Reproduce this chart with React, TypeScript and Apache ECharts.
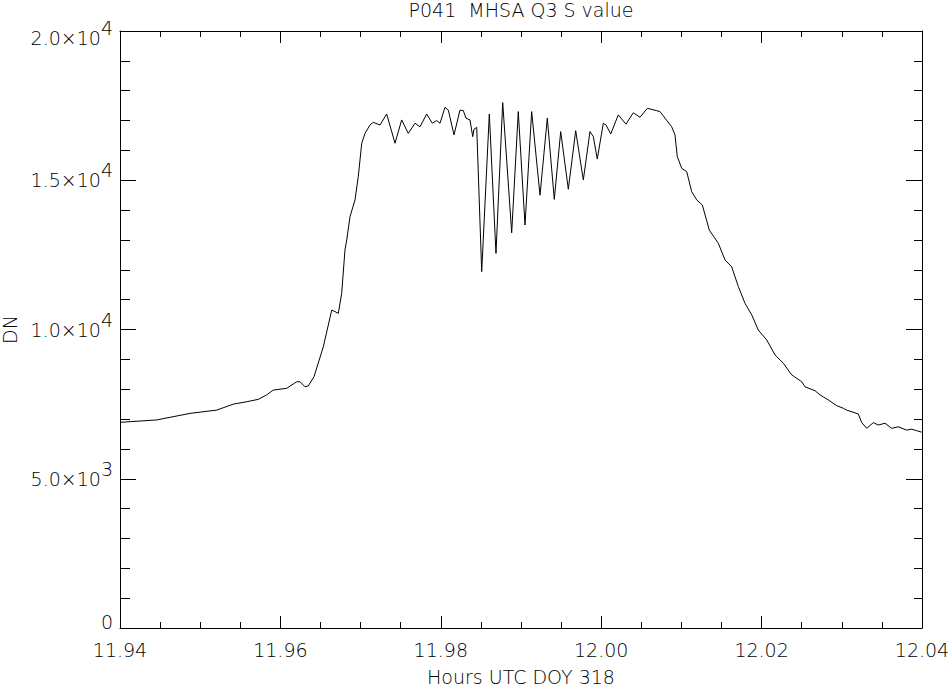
import React, { useEffect, useRef } from "react";
import * as echarts from "echarts";

// Hours UTC (DOY 318)
const hours = [
  11.94, 11.94458, 11.94873, 11.95206, 11.95413, 11.9558, 11.95724, 11.95829, 11.95911, 11.96079,
  11.96203, 11.96244, 11.96307, 11.96348, 11.96419, 11.96535, 11.9664, 11.96681, 11.96722, 11.96764,
  11.96805, 11.96827, 11.96868, 11.9693, 11.96971, 11.97014, 11.97055, 11.97117, 11.97158, 11.97242,
  11.97325, 11.97429, 11.97512, 11.97595, 11.97678, 11.97741, 11.97824, 11.97894, 11.97949, 11.9799,
  11.98052, 11.98094, 11.98165, 11.98239, 11.98281, 11.98314, 11.98364, 11.98398, 11.98414, 11.98448,
  11.9851, 11.98605, 11.98688, 11.98772, 11.98884, 11.98966, 11.9905, 11.99133, 11.99237, 11.99328,
  11.99415, 11.99495, 11.9959, 11.99682, 11.99777, 11.9986, 11.99902, 11.99951, 12.00026, 12.0006,
  12.00119, 12.00213, 12.00309, 12.004, 12.00484, 12.00575, 12.00692, 12.00733, 12.00796, 12.00879,
  12.0092, 12.00949, 12.01004, 12.01066, 12.01128, 12.01191, 12.01261, 12.01348, 12.0146, 12.01544,
  12.01627, 12.0171, 12.01793, 12.01877, 12.01959, 12.02064, 12.02167, 12.02271, 12.02375, 12.025,
  12.02541, 12.02666, 12.02728, 12.02832, 12.02936, 12.03019, 12.03061, 12.03206, 12.03248, 12.03311,
  12.03393, 12.03455, 12.03539, 12.03622, 12.03705, 12.03809, 12.03872, 12.03934, 12.03996,
];

// DN values
const dn = [
  6890, 6970, 7190, 7300, 7500, 7580, 7660, 7810, 7970, 8030,
  8250, 8250, 8080, 8110, 8420, 9420, 10650, 10600, 10540, 11210,
  12660, 13000, 13780, 14340, 15120, 16240, 16570, 16850, 16940, 16850,
  17220, 16240, 17020, 16570, 16910, 16790, 17220, 16910, 17000, 16910,
  17440, 17350, 16520, 17350, 17330, 17080, 17020, 16460, 16710, 16770,
  11940, 17220, 12550, 17600, 13240, 17300, 13500, 17300, 14500, 17080,
  14360, 16630, 14700, 16660, 15010, 16630, 16460, 15710, 16910, 16850,
  16550, 17190, 16880, 17260, 17110, 17410, 17330, 17300, 17080, 16790,
  16520, 15790, 15400, 15290, 14620, 14340, 14170, 13330, 12890, 12330,
  12100, 11440, 10880, 10490, 9980, 9650, 9150, 8870, 8480, 8250,
  8080, 7950, 7810, 7640, 7450, 7360, 7300, 7170, 6880, 6690,
  6880, 6800, 6860, 6690, 6740, 6630, 6660, 6610, 6560,
];

const titleText = "P041  MHSA Q3 S value";
const xName = "Hours UTC DOY 318";
const yName = "DN";
const xRange = [11.94, 12.04];
const xStep = 0.02;
const yRange = [0, 20000];
const yStep = 5000;

const FONT = "'DejaVu Sans', sans-serif";
const FS = 19;
const FW = 200;

function yLabel(v: number): string {
  if (v === 0) return "{z|0}";
  const e = Math.floor(Math.log10(v) + 1e-9);
  const m = (v / Math.pow(10, e)).toFixed(1);
  const top = v === yRange[1];
  return `{${top ? "tm" : "m"}|${m}×10}{${top ? "ts" : "s"}|${e}}`;
}

const base = { fontFamily: FONT, fontSize: FS, fontWeight: FW, color: "#000" } as any;

export default function App() {
  const ref = useRef<HTMLDivElement>(null);
  useEffect(() => {
    if (!ref.current) return;
    const chart = echarts.init(ref.current, undefined, { renderer: "svg" });
    const data = hours.map((h, i) => [h, dn[i]]);
    const axisLine = { show: true, onZero: false, lineStyle: { color: "#000", width: 1 } };
    const xCommon = {
      type: "value",
      min: xRange[0],
      max: xRange[1],
      interval: xStep,
      axisLine,
      axisTick: { show: true, inside: true, length: 12, lineStyle: { color: "#000", width: 1 } },
      minorTick: { show: true, splitNumber: 4, length: 6, lineStyle: { color: "#000", width: 1 } },
      splitLine: { show: false },
      minorSplitLine: { show: false },
    };
    const yCommon = {
      type: "value",
      min: yRange[0],
      max: yRange[1],
      interval: yStep,
      axisLine,
      axisTick: { show: true, inside: true, length: 16, lineStyle: { color: "#000", width: 1 } },
      splitLine: { show: false },
      minorSplitLine: { show: false },
    };
    chart.setOption({
      animation: false,
      backgroundColor: "#fff",
      title: {
        text: titleText,
        left: 521,
        top: 0,
        padding: 0,
        textAlign: "center",
        textStyle: { ...base },
      },
      grid: {
        left: 120,
        right: 26,
        top: 31,
        bottom: 58,
        containLabel: false,
        outerBoundsMode: "none",
      },
      xAxis: [
        {
          ...xCommon,
          position: "bottom",
          axisLabel: { ...base, margin: 12, formatter: (v: number) => v.toFixed(2) },
          name: xName,
          nameLocation: "middle",
          nameGap: 40,
          nameTextStyle: { ...base, lineHeight: 17 },
        },
        { ...xCommon, position: "top", axisLabel: { show: false } },
      ],
      yAxis: [
        {
          ...yCommon,
          position: "left",
          minorTick: { show: true, splitNumber: 5, length: 10, lineStyle: { color: "#000", width: 1 } },
          axisLabel: {
            ...base,
            margin: 7,
            formatter: yLabel,
            rich: {
              m: { ...base },
              s: { ...base, padding: [0, 0, 20, 0] },
              tm: { ...base, padding: [14, 0, 0, 0] },
              ts: { ...base, padding: [0, 0, 6, 0] },
              z: { ...base, padding: [0, 0, 12, 0] },
            },
          },
          name: yName,
          nameLocation: "middle",
          nameGap: 99,
          nameTextStyle: { ...base, lineHeight: 15 },
        },
        {
          ...yCommon,
          position: "right",
          minorTick: { show: true, splitNumber: 5, length: 8, lineStyle: { color: "#000", width: 1 } },
          axisLabel: { show: false },
        },
      ],
      series: [
        {
          type: "line",
          data,
          xAxisIndex: 0,
          yAxisIndex: 0,
          showSymbol: false,
          symbol: "none",
          lineStyle: { color: "#000", width: 1 },
        },
      ],
    });
    return () => chart.dispose();
  }, []);
  return (
    <div
      ref={ref}
      style={{ position: "fixed", left: 0, top: 0, width: 948, height: 686, background: "#fff" }}
    />
  );
}
